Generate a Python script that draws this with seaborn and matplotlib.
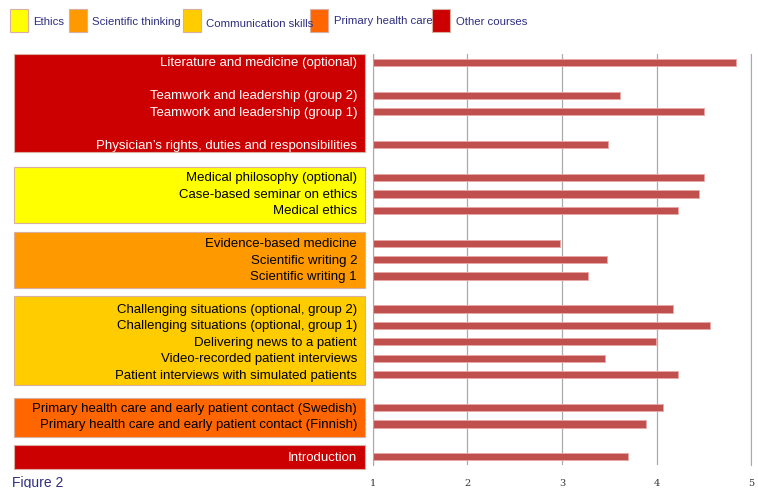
import pandas as pd
import seaborn as sns
import matplotlib.pyplot as plt
from matplotlib.patches import Rectangle
from matplotlib.transforms import blended_transform_factory

# Cours (de haut en bas) et notes moyennes
courses = [
    "Literature and medicine (optional)",
    "Teamwork and leadership (group 2)",
    "Teamwork and leadership (group 1)",
    "Physician’s rights, duties and responsibilities",
    "Medical philosophy (optional)",
    "Case-based seminar on ethics",
    "Medical ethics",
    "Evidence-based medicine",
    "Scientific writing 2",
    "Scientific writing 1",
    "Challenging situations (optional, group 2)",
    "Challenging situations (optional, group 1)",
    "Delivering news to a patient",
    "Video-recorded patient interviews",
    "Patient interviews with simulated patients",
    "Primary health care and early patient contact (Swedish)",
    "Primary health care and early patient contact (Finnish)",
    "Introduction",
]
scores = [4.84, 3.61, 4.50, 3.49, 4.50, 4.45, 4.23, 2.98, 3.47, 3.27,
          4.17, 4.56, 3.99, 3.45, 4.23, 4.07, 3.89, 3.70]
groups = ["Other courses"] * 4 + ["Ethics"] * 3 + ["Scientific thinking"] * 3 \
    + ["Communication skills"] * 5 + ["Primary health care"] * 2 + ["Other courses"]

# ordre des lignes avec les emplacements vides
slot_order = [
    courses[0], "_g1", courses[1], courses[2], "_g2", courses[3], "_g3",
    courses[4], courses[5], courses[6], "_g4",
    courses[7], courses[8], courses[9], "_g5",
    courses[10], courses[11], courses[12], courses[13], courses[14], "_g6",
    courses[15], courses[16], "_g7", courses[17],
]

legend_names = ["Ethics", "Scientific thinking", "Communication skills",
                "Primary health care", "Other courses"]
legend_colors = ["#FFFF00", "#FF9900", "#FFCC00", "#FF6600", "#CC0000"]
group_color = dict(zip(legend_names, legend_colors))

# blocs colorés à gauche : (groupe, haut, bas) en unités de ligne
blocks = [
    ("Other courses", -0.5, 5.45),
    ("Ethics", 6.35, 9.75),
    ("Scientific thinking", 10.3, 13.7),
    ("Communication skills", 14.2, 19.6),
    ("Primary health care", 20.4, 22.8),
    ("Other courses", 23.3, 24.75),
]

df = pd.DataFrame({"course": courses, "score": scores, "group": groups})

sns.set_style("white")
plt.rcParams["font.family"] = ["Liberation Sans", "DejaVu Sans"]

fig = plt.figure(figsize=(7.58, 4.89), dpi=100)
ax = fig.add_axes([0.492, 0.047, 0.499, 0.840])

sns.barplot(data=df, x="score", y="course", order=slot_order, orient="h",
            color="#C0504D", saturation=1, width=0.45, edgecolor="#E8A8A6",
            linewidth=0.6, ax=ax)

ax.set_xlim(1, 5)
ax.set_ylim(len(slot_order) - 0.5, -0.5)
ax.set_xticks([1, 2, 3, 4, 5])
ax.set_xticklabels(["1", "2", "3", "4", "5"], fontsize=7, color="#333333",
                   family="DejaVu Serif")
ax.set_yticks([i + 0.5 for i in range(-1, len(slot_order))])
ax.set_yticklabels([])
ax.tick_params(axis="y", length=3, color="#999999", direction="out", width=0.8)
ax.tick_params(axis="x", length=3, color="#999999", direction="out", pad=6)
ax.grid(axis="x", color="#AAAAAA", linewidth=0.9)
ax.set_xlabel("")
ax.set_ylabel("")
for side in ["left", "right", "bottom"]:
    ax.spines[side].set_color("#AAAAAA")
    ax.spines[side].set_visible(True)
ax.spines["top"].set_visible(False)
ax.spines["bottom"].set_visible(False)

# blocs de catégories et libellés
trans = blended_transform_factory(fig.transFigure, ax.transData)
for g, top, bottom in blocks:
    ax.add_patch(Rectangle((0.0185, top), 0.463, bottom - top, transform=trans,
                           facecolor=group_color[g], edgecolor="#D9B0A0",
                           linewidth=0.8, clip_on=False))

for c, g in zip(courses, groups):
    y = slot_order.index(c)
    txt_color = "white" if g == "Other courses" else "black"
    ax.text(0.471, y, c, transform=trans, ha="right", va="center",
            fontsize=9.5, color=txt_color, clip_on=False)

# légende en haut
leg_x = [0.013, 0.091, 0.241, 0.409, 0.570]
leg_y = [0.955, 0.955, 0.951, 0.957, 0.955]
for name, col, x, y in zip(legend_names, legend_colors, leg_x, leg_y):
    fig.patches.append(Rectangle((x, 0.933), 0.024, 0.047, transform=fig.transFigure,
                                 facecolor=col, edgecolor="#D9B0A0", linewidth=0.8))
    fig.text(x + 0.031, y, name, ha="left", va="center", fontsize=8.2,
             color="#2E2E80")

fig.text(0.016, 0.013, "Figure 2", ha="left", va="center", fontsize=10,
         color="#2E2E80")

fig.savefig("out.png", dpi=100)
